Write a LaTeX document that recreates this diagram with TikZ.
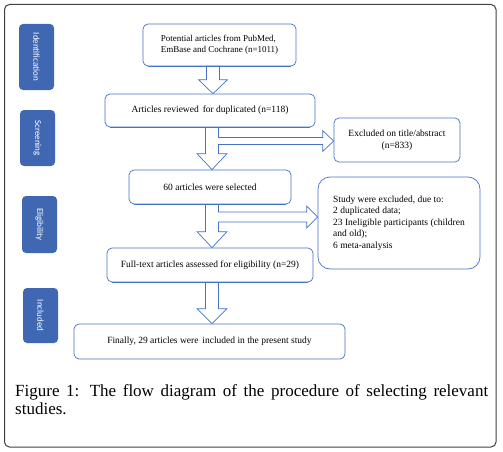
\documentclass[tikz,border=0pt]{standalone}
\usepackage{fontspec}
\setmainfont{Liberation Serif}
\newfontfamily\labelfont{Carlito}
\usetikzlibrary{calc}
\definecolor{boxblue}{HTML}{4472C4}
\definecolor{labblue}{HTML}{4068B2}
\definecolor{frameg}{HTML}{404040}
\tikzset{
  box/.style={draw=boxblue, line width=0.7pt, fill=white, rounded corners=5pt, align=center, font=\fontsize{9.5}{11.5}\selectfont, inner sep=2pt},
  sidelab/.style={fill=labblue, rounded corners=4pt, text=white, rotate=-90, font=\labelfont\fontsize{9}{11}\selectfont, inner sep=1pt},
  barrow/.style={draw=boxblue, line width=0.7pt, fill=white, line join=miter},
}
\begin{document}
\begin{tikzpicture}[x=1pt,y=-1pt]
\useasboundingbox (0,0) rectangle (503,452);
% outer frame
\draw[frameg, line width=1pt, rounded corners=5pt] (4.5,4.5) rectangle (496,447);
% side labels
\node[sidelab, minimum width=66pt, minimum height=35pt] (lid) at (36.5,57) {Identification};
\node[sidelab, minimum width=56pt, minimum height=35pt] (lsc) at (37.5,138) {Screening};
\node[sidelab, minimum width=57pt, minimum height=35pt] (lel) at (39.5,224.5) {Eligibility};
\node[sidelab, minimum width=55pt, minimum height=35pt] (lin) at (40.5,315.5) {Included};
% boxes
\node[box, minimum width=153pt, minimum height=42pt, align=left, font=\fontsize{9}{11}\selectfont] (b1) at (219.5,45) {Potential articles from PubMed,\\EmBase and Cochrane (n=1011)};
\node[box, minimum width=210pt, minimum height=33pt] (b2) at (210,110.5) {Articles reviewed\, for duplicated (n=118)};
\node[box, minimum width=126pt, minimum height=44pt] (e1) at (397,140) {Excluded on title/abstract\\(n=833)};
\node[box, minimum width=162pt, minimum height=34pt] (b3) at (210,187) {60 articles were selected};
\node[box, minimum width=162pt, minimum height=92pt, rounded corners=12pt, align=left] (e2) at (399,223) {Study were excluded, due to:\\2 duplicated data;\\23 Ineligible participants (children\\and old);\\6 meta-analysis};
\node[box, minimum width=206pt, minimum height=34pt] (b4) at (210,265) {Full-text articles assessed for eligibility (n=29)};
\node[box, minimum width=271pt, minimum height=35pt] (b5) at (209.5,341.5) {Finally, 29 articles were\, included in the present study};
% block arrows
\draw[barrow] let \p1=(b1.south), \p2=(b2.north) in
  (206.5,\y1) -- (206.5,\y2+14pt) -- (198.5,\y2+14pt) -- (213,\y2) -- (227.5,\y2+14pt) -- (219.5,\y2+14pt) -- (219.5,\y1) -- cycle;
\draw[barrow] let \p1=(b2.south), \p2=(b3.north), \p3=(e1.west) in
  (205.5,\y1) -- (205.5,\y2+16pt) -- (197,\y2+16pt) -- (212,\y2) -- (227,\y2+16pt) -- (218.5,\y2+16pt)
  -- (218.5,\y3-4.5pt) -- (\x3-11pt,\y3-4.5pt) -- (\x3-11pt,\y3-11.5pt) -- (\x3,\y3-1pt)
  -- (\x3-11pt,\y3+9.5pt) -- (\x3-11pt,\y3+2.5pt) -- (218.5,\y3+2.5pt) -- (218.5,\y1) -- cycle;
\draw[barrow] let \p1=(b3.south), \p2=(b4.north), \p3=(e2.west) in
  (205.5,\y1) -- (205.5,\y2+16pt) -- (197,\y2+16pt) -- (212,\y2) -- (227,\y2+16pt) -- (218.5,\y2+16pt)
  -- (218.5,-222pt) -- (\x3-11pt,-222pt) -- (\x3-11pt,-228pt) -- (\x3,-217pt)
  -- (\x3-11pt,-206pt) -- (\x3-11pt,-212pt) -- (218.5,-212pt) -- (218.5,\y1) -- cycle;
\draw[barrow] let \p1=(b4.south), \p2=(b5.north) in
  (205.5,\y1) -- (205.5,\y2+15pt) -- (197,\y2+15pt) -- (212,\y2) -- (227,\y2+15pt) -- (218.5,\y2+15pt) -- (218.5,\y1) -- cycle;
% redraw box borders over arrow tops
\foreach \n in {b1,b2,b3,b4} \draw[boxblue, line width=0.7pt] (\n.south west) ++(5pt,0) -- ($(\n.south east)+(-5pt,0)$);
% caption
\node[anchor=north west, text width=473pt, align=justify, inner sep=0pt, font=\fontsize{17}{18.5}\selectfont] (cap) at (15,384) {Figure 1: The flow diagram of the procedure of selecting relevant\linebreak studies.};
\end{tikzpicture}
\end{document}
